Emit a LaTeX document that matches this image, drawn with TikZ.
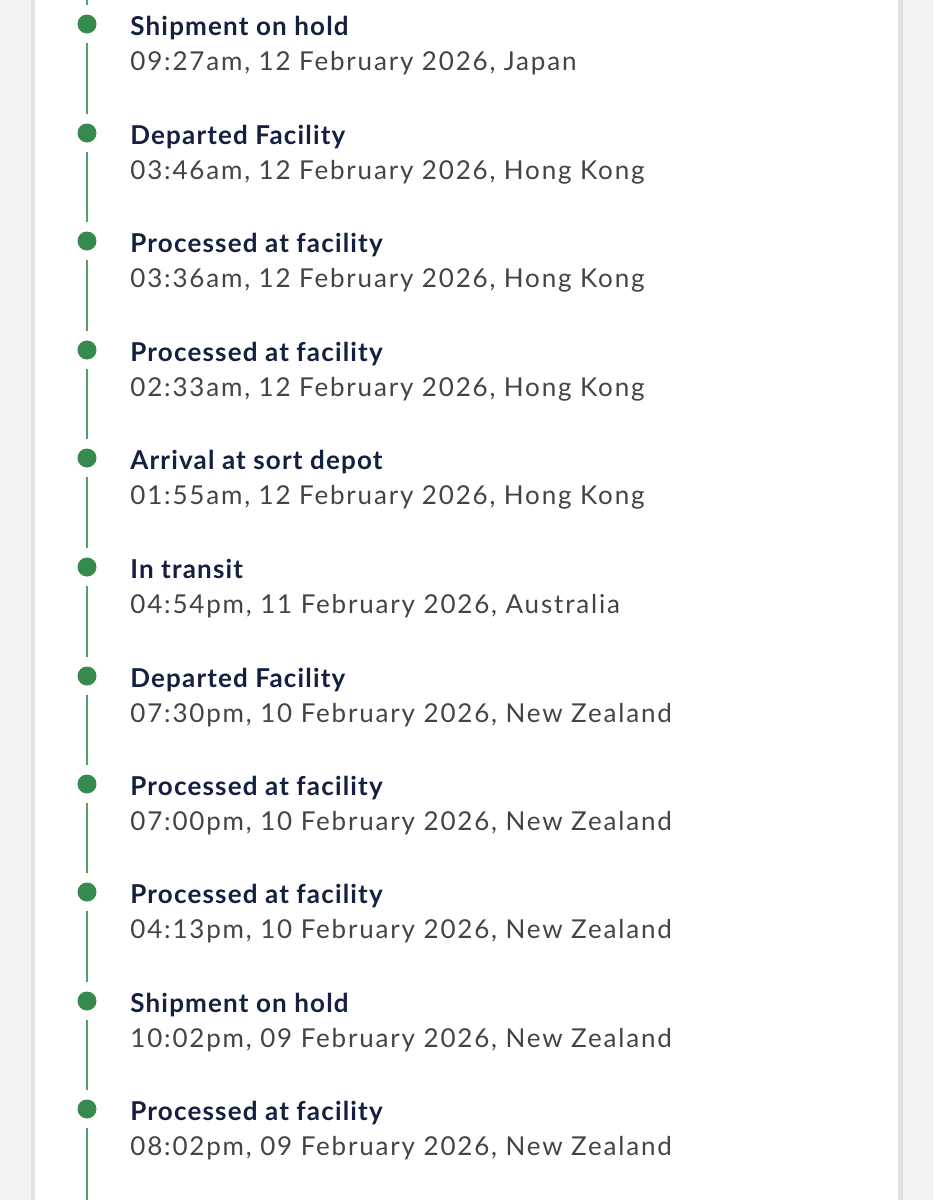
\documentclass[tikz,border=0pt]{standalone}
\usepackage{fontspec}
\setmainfont{Lato}
\newfontfamily\eventfont{Lato}[LetterSpace=4.5]
\newfontfamily\stampfont{Lato}[LetterSpace=7]
\usetikzlibrary{positioning}

\definecolor{pagegray}{HTML}{F2F2F2}
\definecolor{edgegray}{HTML}{E2E2E2}
\definecolor{dotgreen}{HTML}{378A4E}
\definecolor{linegreen}{HTML}{54A167}
\definecolor{navy}{HTML}{13203F}
\definecolor{stampgray}{HTML}{444444}

\begin{document}
\begin{tikzpicture}[
    x=0.5pt, y=-0.5pt,
    dot/.style={circle, fill=dotgreen, draw=none, minimum size=9.5pt, inner sep=0pt},
    track/.style={draw=linegreen, line width=1.1pt, shorten <=4.5pt, shorten >=4.5pt},
    event/.style={anchor=base west, inner sep=0pt, font=\eventfont\fontsize{13}{15}\selectfont\bfseries, text=navy},
    stamp/.style={anchor=base west, inner sep=0pt, font=\stampfont\fontsize{13}{15}\selectfont, text=stampgray}
  ]

  % page and card
  \fill[pagegray] (0,0) rectangle (933,1200);
  \fill[edgegray] (31,0) rectangle (35,1200);
  \fill[edgegray] (898,0) rectangle (903,1200);
  \fill[white] (35,0) rectangle (898,1200);
  \useasboundingbox (0,0) rectangle (933,1200);

  % dots down the timeline
  \node[dot] (d1)  at (87,24)   {};
  \node[dot] (d2)  at (87,133)  {};
  \node[dot] (d3)  at (87,241)  {};
  \node[dot] (d4)  at (87,350)  {};
  \node[dot] (d5)  at (87,458)  {};
  \node[dot] (d6)  at (87,567)  {};
  \node[dot] (d7)  at (87,676)  {};
  \node[dot] (d8)  at (87,784)  {};
  \node[dot] (d9)  at (87,892)  {};
  \node[dot] (d10) at (87,1001) {};
  \node[dot] (d11) at (87,1109) {};
  \coordinate (top) at (87,0);
  \coordinate (bottom) at (87,1200);

  % event names
  \node[event] (e1)  at (130,35)   {Shipment on hold};
  \node[event] (e2)  at (130,144)  {Departed Facility};
  \node[event] (e3)  at (130,252)  {Processed at facility};
  \node[event] (e4)  at (130,361)  {Processed at facility};
  \node[event] (e5)  at (130,469)  {Arrival at sort depot};
  \node[event] (e6)  at (130,578)  {In transit};
  \node[event] (e7)  at (130,687)  {Departed Facility};
  \node[event] (e8)  at (130,795)  {Processed at facility};
  \node[event] (e9)  at (130,903)  {Processed at facility};
  \node[event] (e10) at (130,1012) {Shipment on hold};
  \node[event] (e11) at (130,1120) {Processed at facility};

  % time and place under each name
  \node[stamp] (s1)  at (130,70)   {09:27am, 12 February 2026, Japan};
  \node[stamp] (s2)  at (130,179)  {03:46am, 12 February 2026, Hong Kong};
  \node[stamp] (s3)  at (130,287)  {03:36am, 12 February 2026, Hong Kong};
  \node[stamp] (s4)  at (130,396)  {02:33am, 12 February 2026, Hong Kong};
  \node[stamp] (s5)  at (130,504)  {01:55am, 12 February 2026, Hong Kong};
  \node[stamp] (s6)  at (130,613)  {04:54pm, 11 February 2026, Australia};
  \node[stamp] (s7)  at (130,722)  {07:30pm, 10 February 2026, New Zealand};
  \node[stamp] (s8)  at (130,830)  {07:00pm, 10 February 2026, New Zealand};
  \node[stamp] (s9)  at (130,938)  {04:13pm, 10 February 2026, New Zealand};
  \node[stamp] (s10) at (130,1047) {10:02pm, 09 February 2026, New Zealand};
  \node[stamp] (s11) at (130,1155) {08:02pm, 09 February 2026, New Zealand};

  % the green line between dots
  \draw[track, shorten <=0pt] (top) -- (d1);
  \draw[track] (d1) -- (d2);
  \draw[track] (d2) -- (d3);
  \draw[track] (d3) -- (d4);
  \draw[track] (d4) -- (d5);
  \draw[track] (d5) -- (d6);
  \draw[track] (d6) -- (d7);
  \draw[track] (d7) -- (d8);
  \draw[track] (d8) -- (d9);
  \draw[track] (d9) -- (d10);
  \draw[track] (d10) -- (d11);
  \draw[track, shorten >=0pt] (d11) -- (bottom);

\end{tikzpicture}
\end{document}
